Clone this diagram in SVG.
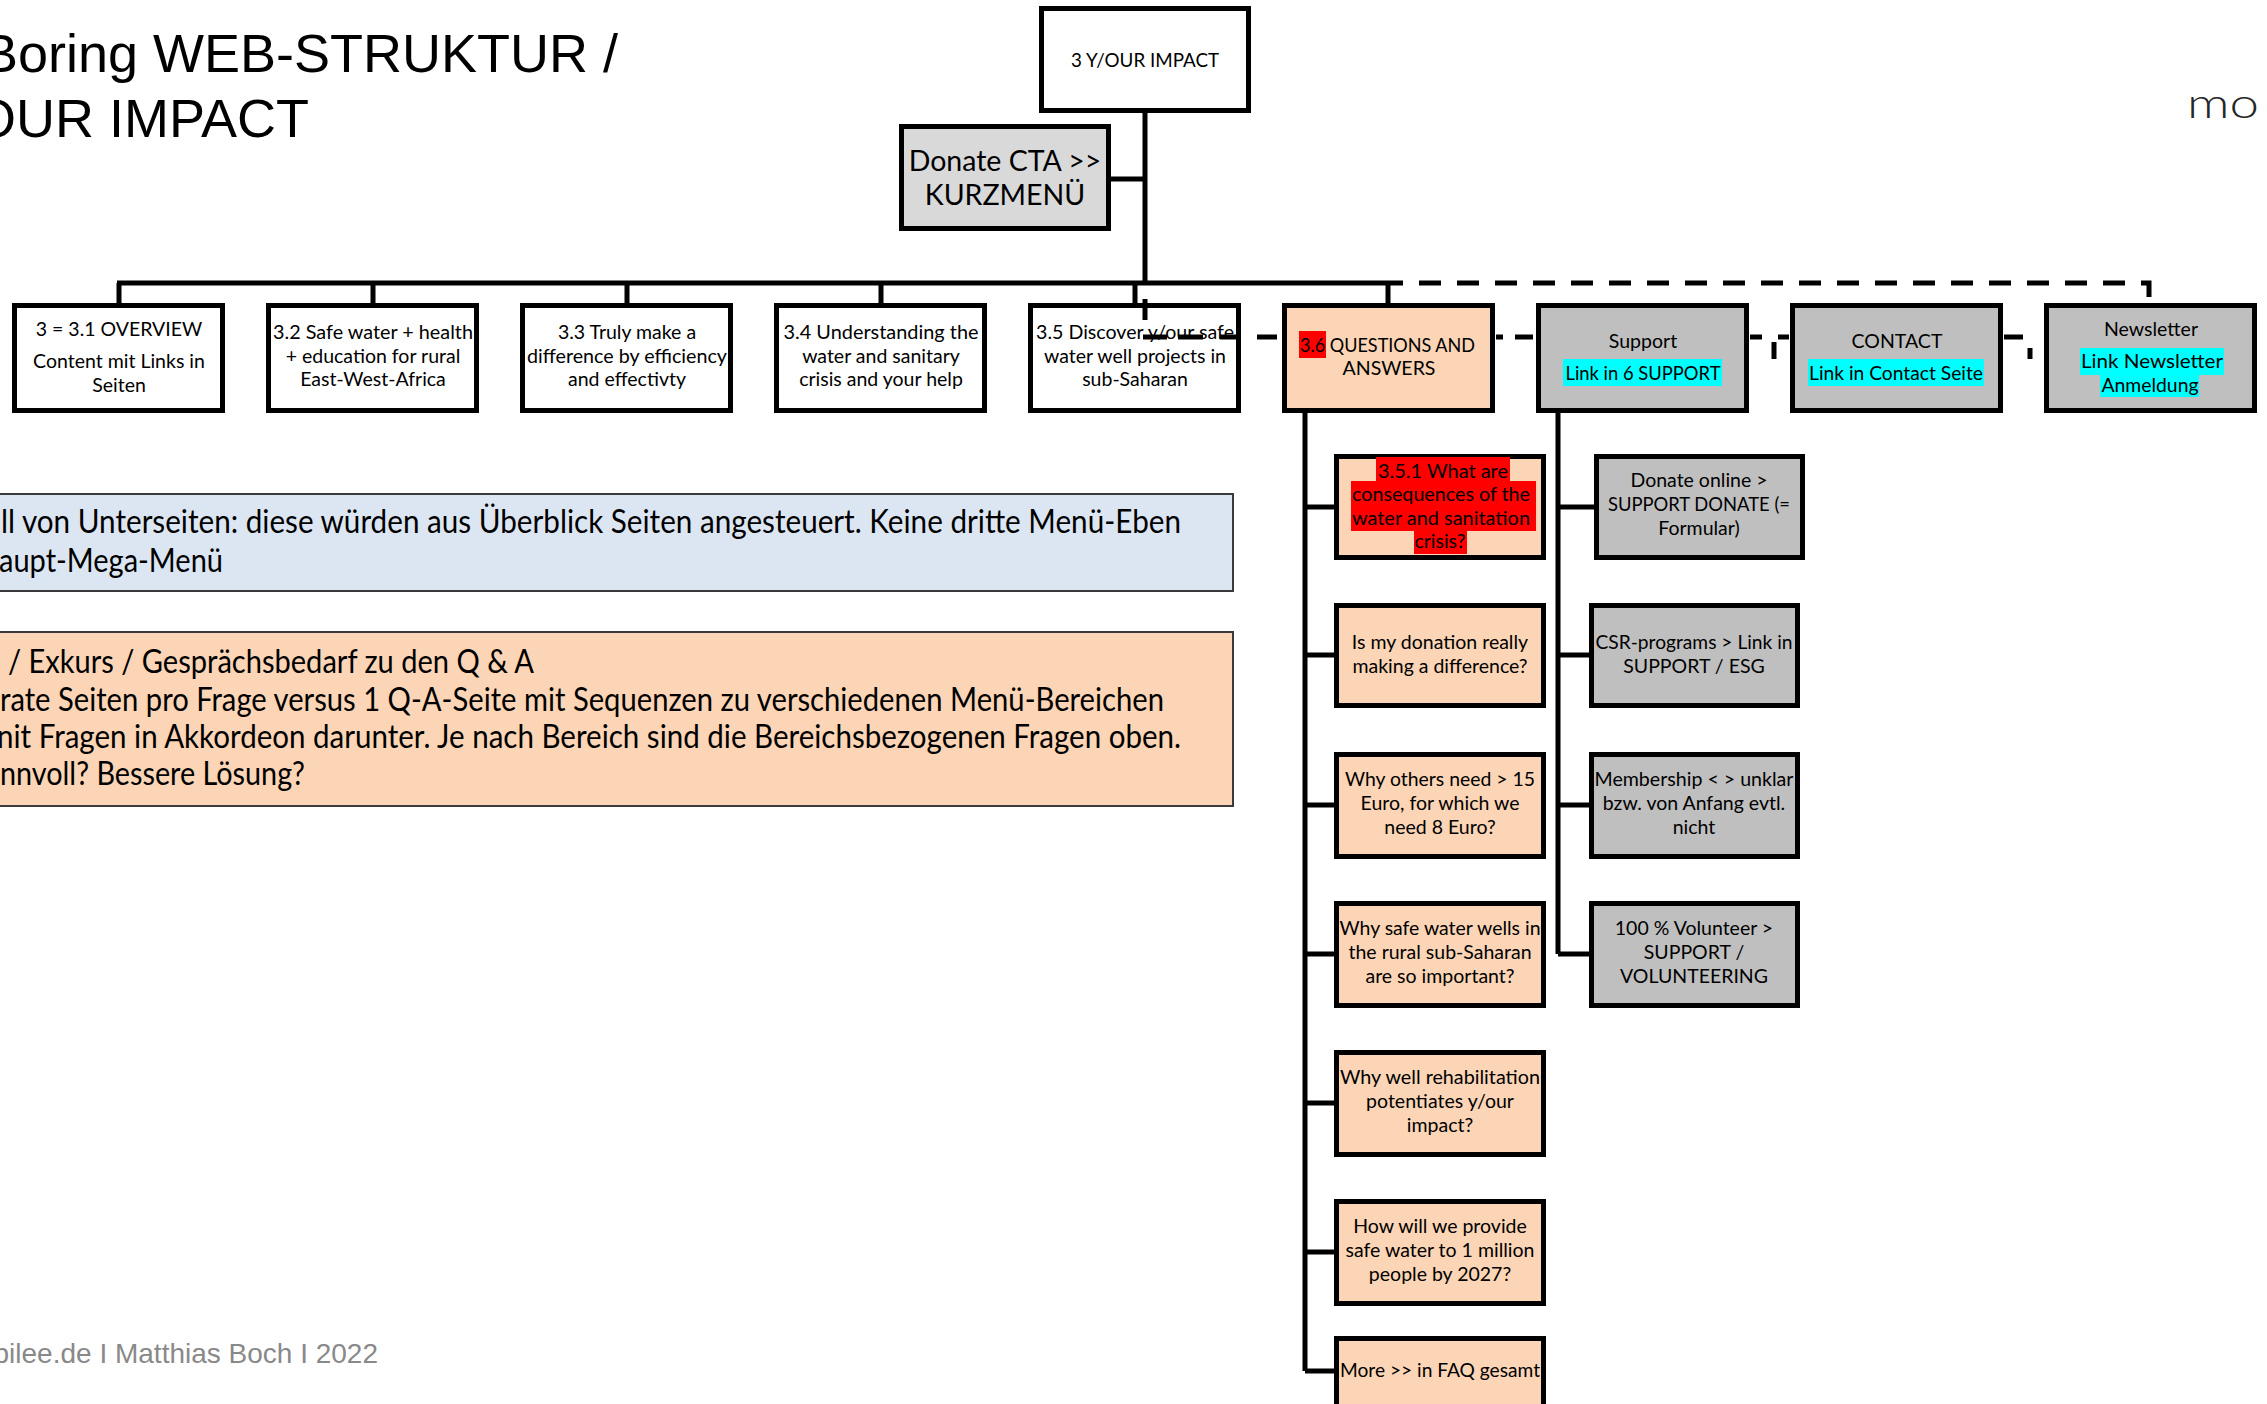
<svg xmlns="http://www.w3.org/2000/svg" width="2267" height="1404" viewBox="0 0 2267 1404">
<style>
.t{font-family:Lato,"Open Sans","DejaVu Sans",sans-serif;fill:#000;text-anchor:middle}
.s{font-size:19.5px}
.bx{stroke:#000;stroke-width:5}
.w{fill:#fff}.pe{fill:#fbd5b5}.gr{fill:#bfbfbf}.lg{fill:#d9d9d9}
.note{stroke:#3a3a3a;stroke-width:2}
.nt{font-family:Lato,"Open Sans",sans-serif;font-size:32px;fill:#000}
.ln{fill:none;stroke:#000;stroke-width:5}
</style>
<rect width="2267" height="1404" fill="#fff"/>
<g id="title">
<text x="-18" y="72" font-family="Liberation Sans, Arial, sans-serif" font-size="54">Boring WEB-STRUKTUR /</text>
<text x="-26" y="137" font-family="Liberation Sans, Arial, sans-serif" font-size="54">OUR IMPACT</text>
</g>
<text x="2187" y="118" font-family="Lato, sans-serif" font-weight="300" font-size="42" fill="#262626" textLength="72" lengthAdjust="spacingAndGlyphs">mo</text>
<text x="378" y="1363" text-anchor="end" font-family="Liberation Sans, Arial, sans-serif" font-size="28" fill="#898989">bilee.de I Matthias Boch I 2022</text>

<g id="note-blue">
<rect x="-10" y="494" width="1243" height="97" fill="#dce6f2" class="note"/>
<text class="nt" x="1" y="533" textLength="1180" lengthAdjust="spacingAndGlyphs">ll von Unterseiten: diese würden aus Überblick Seiten angesteuert. Keine dritte Menü-Eben</text>
<text class="nt" x="-1" y="572" textLength="224" lengthAdjust="spacingAndGlyphs">aupt-Mega-Menü</text>
</g>
<g id="note-peach">
<rect x="-10" y="632" width="1243" height="174" fill="#fbd5b5" class="note"/>
<text class="nt" x="8" y="673" textLength="526" lengthAdjust="spacingAndGlyphs">/ Exkurs / Gesprächsbedarf zu den Q &amp; A</text>
<text class="nt" x="0" y="711" textLength="1164" lengthAdjust="spacingAndGlyphs">rate Seiten pro Frage versus 1 Q-A-Seite mit Sequenzen zu verschiedenen Menü-Bereichen</text>
<text class="nt" x="-3" y="748" textLength="1184" lengthAdjust="spacingAndGlyphs">nit Fragen in Akkordeon darunter. Je nach Bereich sind die Bereichsbezogenen Fragen oben.</text>
<text class="nt" x="0" y="785" textLength="305" lengthAdjust="spacingAndGlyphs">nnvoll? Bessere Lösung?</text>
</g>

<g id="n-root">
<rect x="1041.5" y="8.5" width="207" height="102" class="bx w"/>
<text class="t" x="1145" y="67" font-size="18.8">3 Y/OUR IMPACT</text>
</g>
<g id="n-donate">
<rect x="901.5" y="126.5" width="207" height="102" class="bx lg"/>
<text class="t" x="1005" y="171" font-size="28.5">Donate CTA &gt;&gt;</text>
<text class="t" x="1005" y="205" font-size="28.5">KURZMENÜ</text>
</g>

<g id="n-3-1">
<rect x="14.5" y="305.5" width="208" height="105" class="bx w"/>
<text class="t s" x="119" y="336">3 = 3.1 OVERVIEW</text>
<text class="t s" x="119" y="368">Content mit Links in</text>
<text class="t s" x="119" y="392">Seiten</text>
</g>
<g id="n-3-2">
<rect x="268.5" y="305.5" width="208" height="105" class="bx w"/>
<text class="t s" x="373" y="339" textLength="200" lengthAdjust="spacingAndGlyphs">3.2 Safe water + health</text>
<text class="t s" x="373" y="363">+ education for rural</text>
<text class="t s" x="373" y="386">East-West-Africa</text>
</g>
<g id="n-3-3">
<rect x="522.5" y="305.5" width="208" height="105" class="bx w"/>
<text class="t s" x="627" y="339">3.3 Truly make a</text>
<text class="t s" x="627" y="363" textLength="200" lengthAdjust="spacingAndGlyphs">difference by efficiency</text>
<text class="t s" x="627" y="386">and effectivty</text>
</g>
<g id="n-3-4">
<rect x="776.5" y="305.5" width="208" height="105" class="bx w"/>
<text class="t s" x="881" y="339" textLength="195" lengthAdjust="spacingAndGlyphs">3.4 Understanding the</text>
<text class="t s" x="881" y="363">water and sanitary</text>
<text class="t s" x="881" y="386">crisis and your help</text>
</g>
<g id="n-3-5">
<rect x="1030.5" y="305.5" width="208" height="105" class="bx w"/>
<text class="t s" x="1135" y="339" textLength="198" lengthAdjust="spacingAndGlyphs">3.5 Discover y/our safe</text>
<text class="t s" x="1135" y="363">water well projects in</text>
<text class="t s" x="1135" y="386">sub-Saharan</text>
</g>
<g id="n-3-6">
<rect x="1284.5" y="305.5" width="208" height="105" class="bx pe"/>
<rect x="1299" y="331" width="27" height="27" fill="#ff0000"/>
<text class="t s" x="1300" y="352" style="text-anchor:start" textLength="175" lengthAdjust="spacingAndGlyphs">3.6 QUESTIONS AND</text>
<text class="t s" x="1389" y="375">ANSWERS</text>
</g>
<g id="n-support">
<rect x="1538.5" y="305.5" width="208" height="105" class="bx gr"/>
<rect x="1563" y="359" width="159" height="27" fill="#00ffff"/>
<text class="t s" x="1643" y="348">Support</text>
<text class="t s" x="1643" y="380" textLength="155" lengthAdjust="spacingAndGlyphs">Link in 6 SUPPORT</text>
</g>
<g id="n-contact">
<rect x="1792.5" y="305.5" width="208" height="105" class="bx gr"/>
<rect x="1808" y="359" width="176" height="27" fill="#00ffff"/>
<text class="t s" x="1897" y="348">CONTACT</text>
<text class="t s" x="1896" y="380" textLength="174" lengthAdjust="spacingAndGlyphs">Link in Contact Seite</text>
</g>
<g id="n-newsletter">
<rect x="2046.5" y="305.5" width="208" height="105" class="bx gr"/>
<rect x="2080" y="348" width="144" height="27" fill="#00ffff"/>
<rect x="2100" y="375" width="99" height="22" fill="#00ffff"/>
<text class="t s" x="2151" y="336">Newsletter</text>
<text class="t s" x="2152" y="368" textLength="142" lengthAdjust="spacingAndGlyphs">Link Newsletter</text>
<text class="t s" x="2150" y="392" textLength="97" lengthAdjust="spacingAndGlyphs">Anmeldung</text>
</g>

<g id="q-3-5-1">
<rect x="1336.5" y="456.5" width="207" height="101" class="bx pe"/>
<rect x="1376" y="457" width="134" height="24" fill="#ff0000"/>
<rect x="1351" y="481" width="185" height="50" fill="#ff0000"/>
<rect x="1414" y="531" width="53" height="23" fill="#ff0000"/>
<text class="t s" x="1443" y="478" textLength="130" lengthAdjust="spacingAndGlyphs">3.5.1 What are</text>
<text class="t s" x="1441" y="501" textLength="178" lengthAdjust="spacingAndGlyphs">consequences of the</text>
<text class="t s" x="1441" y="525" textLength="178" lengthAdjust="spacingAndGlyphs">water and sanitation</text>
<text class="t s" x="1440" y="548">crisis?</text>
</g>
<g id="q-donation">
<rect x="1336.5" y="605.5" width="207" height="100" class="bx pe"/>
<text class="t s" x="1440" y="649">Is my donation really</text>
<text class="t s" x="1440" y="673">making a difference?</text>
</g>
<g id="q-others">
<rect x="1336.5" y="754.5" width="207" height="102" class="bx pe"/>
<text class="t s" x="1440" y="786" textLength="190" lengthAdjust="spacingAndGlyphs">Why others need &gt; 15</text>
<text class="t s" x="1440" y="810">Euro, for which we</text>
<text class="t s" x="1440" y="834">need 8 Euro?</text>
</g>
<g id="q-wells">
<rect x="1336.5" y="903.5" width="207" height="102" class="bx pe"/>
<text class="t s" x="1440" y="935" textLength="201" lengthAdjust="spacingAndGlyphs">Why safe water wells in</text>
<text class="t s" x="1440" y="959">the rural sub-Saharan</text>
<text class="t s" x="1440" y="983">are so important?</text>
</g>
<g id="q-rehab">
<rect x="1336.5" y="1052.5" width="207" height="102" class="bx pe"/>
<text class="t s" x="1440" y="1084" textLength="200" lengthAdjust="spacingAndGlyphs">Why well rehabilitation</text>
<text class="t s" x="1440" y="1108">potentiates y/our</text>
<text class="t s" x="1440" y="1132">impact?</text>
</g>
<g id="q-million">
<rect x="1336.5" y="1201.5" width="207" height="102" class="bx pe"/>
<text class="t s" x="1440" y="1233">How will we provide</text>
<text class="t s" x="1440" y="1257">safe water to 1 million</text>
<text class="t s" x="1440" y="1281">people by 2027?</text>
</g>
<g id="q-more">
<rect x="1336.5" y="1338.5" width="207" height="100" class="bx pe"/>
<text class="t s" x="1440" y="1377" textLength="200" lengthAdjust="spacingAndGlyphs">More &gt;&gt; in FAQ gesamt</text>
</g>

<g id="s-donate">
<rect x="1596.5" y="456.5" width="206" height="101" class="bx gr"/>
<text class="t s" x="1699" y="487">Donate online &gt;</text>
<text class="t s" x="1699" y="511" textLength="182" lengthAdjust="spacingAndGlyphs">SUPPORT DONATE (=</text>
<text class="t s" x="1699" y="535">Formular)</text>
</g>
<g id="s-csr">
<rect x="1591.5" y="605.5" width="206" height="100" class="bx gr"/>
<text class="t s" x="1694" y="649" textLength="197" lengthAdjust="spacingAndGlyphs">CSR-programs &gt; Link in</text>
<text class="t s" x="1694" y="673">SUPPORT / ESG</text>
</g>
<g id="s-membership">
<rect x="1591.5" y="754.5" width="206" height="102" class="bx gr"/>
<text class="t s" x="1694" y="786" textLength="199" lengthAdjust="spacingAndGlyphs">Membership &lt; &gt; unklar</text>
<text class="t s" x="1694" y="810">bzw. von Anfang evtl.</text>
<text class="t s" x="1694" y="834">nicht</text>
</g>
<g id="s-volunteer">
<rect x="1591.5" y="903.5" width="206" height="102" class="bx gr"/>
<text class="t s" x="1694" y="935">100 % Volunteer &gt;</text>
<text class="t s" x="1694" y="959">SUPPORT /</text>
<text class="t s" x="1694" y="983">VOLUNTEERING</text>
</g>

<g id="connectors">
<path class="ln" d="M1145 113V283M1110 179H1145M117 283H1403M119 283V303M373 283V303M627 283V303M881 283V303M1135 283V303M1388 283V303"/>
<path class="ln" d="M1403 283H2149V303" stroke-dasharray="22 16" stroke-dashoffset="22"/>
<path class="ln" d="M1145 299V320M1143 337H1167M1178 337H1203M1220 337H1240M1257 337H1277M1496 337H1503M1515 337H1533M1750 337H1762M1778 337H1789M2004 337H2023M1774 342V359M2030 348V359"/>
<path class="ln" d="M1305 413V1371M1305 507H1336M1305 655H1336M1305 805H1336M1305 954H1336M1305 1103H1336M1305 1252H1336M1305 1371H1336"/>
<path class="ln" d="M1558 413V954M1558 507H1596M1558 655H1591M1558 805H1591M1558 954H1591"/>
</g>
</svg>
